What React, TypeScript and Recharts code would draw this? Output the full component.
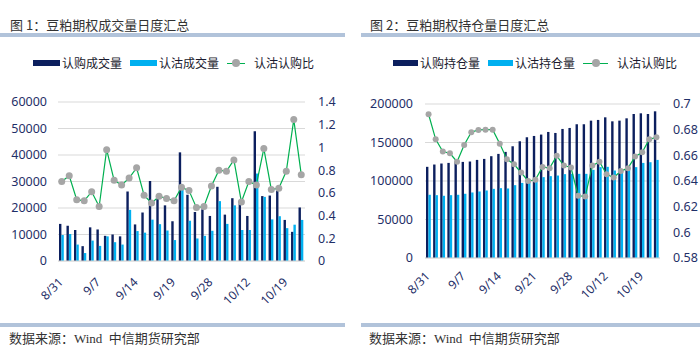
import { Bar, CartesianGrid, ComposedChart, Line, XAxis, YAxis } from 'recharts';

const volumeDates = ['8/31', '9/1', '9/2', '9/3', '9/4', '9/7', '9/8', '9/9', '9/10', '9/11', '9/14', '9/15', '9/16', '9/17', '9/18', '9/19', '9/22', '9/23', '9/24', '9/25', '9/28', '9/29', '9/30', '10/9', '10/10', '10/12', '10/13', '10/14', '10/15', '10/16', '10/19', '10/20', '10/21'];
const oiDates = ['8/31', '9/1', '9/2', '9/3', '9/4', '9/7', '9/8', '9/9', '9/10', '9/11', '9/14', '9/15', '9/16', '9/17', '9/18', '9/21', '9/22', '9/23', '9/24', '9/25', '9/28', '9/29', '9/30', '10/9', '10/10', '10/12', '10/13', '10/14', '10/15', '10/16', '10/19', '10/20', '10/21'];

const callVolume = [14000, 13300, 11700, 5600, 12700, 11900, 9500, 10000, 9300, 26200, 13800, 18300, 30200, 23700, 21000, 15000, 41000, 25000, 18500, 19500, 17000, 28000, 17500, 23700, 21500, 17000, 49000, 24500, 24700, 26500, 15500, 11000, 20200];
const putVolume = [9800, 10200, 6200, 3000, 7700, 5700, 9300, 7100, 6200, 19300, 11300, 10700, 15600, 13900, 11500, 7900, 27000, 15200, 8500, 9500, 11400, 22600, 14000, 21000, 11700, 11700, 33000, 24200, 15700, 16900, 12400, 13700, 15500];
const volumeRatio = [0.70, 0.75, 0.54, 0.53, 0.61, 0.48, 0.98, 0.71, 0.67, 0.73, 0.82, 0.58, 0.51, 0.57, 0.55, 0.53, 0.65, 0.62, 0.47, 0.48, 0.66, 0.80, 0.79, 0.89, 0.52, 0.70, 0.67, 0.99, 0.63, 0.64, 0.79, 1.245, 0.76];

const callOI = [118400, 121400, 122700, 123500, 124500, 124800, 125300, 127400, 128700, 132200, 135200, 137800, 145100, 151600, 156800, 158500, 160300, 163700, 162400, 167600, 168900, 173700, 173700, 178400, 179300, 182700, 177500, 178400, 181400, 187000, 187900, 187000, 190500];
const putOI = [82100, 81600, 80800, 81600, 82100, 83400, 85100, 86400, 87700, 89800, 90700, 90300, 94600, 97600, 101500, 102400, 105000, 106300, 107100, 108900, 109300, 109300, 109300, 114500, 118000, 118400, 113600, 113600, 114500, 118000, 123500, 124400, 127400];
const oiRatio = [0.692, 0.6725, 0.663, 0.6616, 0.655, 0.668, 0.678, 0.6798, 0.680, 0.680, 0.669, 0.657, 0.653, 0.6466, 0.640, 0.641, 0.651, 0.650, 0.6596, 0.652, 0.6505, 0.6285, 0.628, 0.652, 0.655, 0.6453, 0.6427, 0.6477, 0.650, 0.659, 0.6624, 0.6725, 0.674];

const volumeTicks = [0, 10000, 20000, 30000, 40000, 50000, 60000];
const volumeRatioTicks = [0, 0.2, 0.4, 0.6, 0.8, 1, 1.2, 1.4];
const oiTicks = [0, 50000, 100000, 150000, 200000];
const oiRatioTicks = [0.58, 0.6, 0.62, 0.64, 0.66, 0.68, 0.7];

const FONT = '"Noto Sans", "Noto Sans CJK SC", sans-serif';
const CJK = '"Noto Sans CJK SC", sans-serif';
const DARK = '#0c1f5e';
const LIGHT = '#00b0f0';
const GREEN = '#00b050';
const DOT = '#a6a6a6';
const TICK = '#1f2f68';
const GRID = '#d9d9d9';
const RULE = '#b1c3da';

function DateTick(props: any) {
  const { x, y, payload, offset } = props;
  const tx = x + 2;
  const ty = y + offset;
  return (
    <text x={tx} y={ty} transform={`rotate(-45 ${tx} ${ty})`} textAnchor="end" fontSize={12} fill={TICK} fontFamily={FONT}>
      {payload.value}
    </text>
  );
}

function Legend({ left, labels, swatchW, lineW }: { left: number; labels: string[]; swatchW: number; lineW: number }) {
  const text = { fontSize: 12, color: '#1a1a2e', fontFamily: CJK, marginLeft: 2 };
  return (
    <div style={{ position: 'absolute', left, top: 55, height: 16, lineHeight: '16px', display: 'flex', alignItems: 'center' }}>
      <span style={{ width: swatchW, height: 6, background: DARK, display: 'inline-block' }} />
      <span style={text}>{labels[0]}</span>
      <span style={{ width: swatchW, height: 6, background: LIGHT, display: 'inline-block', marginLeft: 8 }} />
      <span style={text}>{labels[1]}</span>
      <span style={{ position: 'relative', width: lineW, height: 8, display: 'inline-block', marginLeft: 8 }}>
        <span style={{ position: 'absolute', left: 0, right: 0, top: 3.5, height: 1, background: GREEN }} />
        <span style={{ position: 'absolute', left: lineW / 2 - 4, top: 0, width: 8, height: 8, borderRadius: 4, background: DOT }} />
      </span>
      <span style={{ ...text, marginLeft: 9 }}>{labels[2]}</span>
    </div>
  );
}

function Panel(props: {
  left: number;
  title: string;
  ruleLeft: number;
  ruleWidth: number;
  legendLeft: number;
  labels: string[];
  swatchW: number;
  lineW: number;
  rows: any[];
  leftTicks: number[];
  rightTicks: number[];
  leftWidth: number;
  rightWidth: number;
  leftMargin: number;
  rightMargin: number;
  plotTop: number;
  plotBottom: number;
  tickOffset: number;
  dotR: number;
}) {
  const h = 330;
  return (
    <div style={{ position: 'absolute', left: props.left, top: 0, width: 350, height: 355 }}>
      <div style={{ position: 'absolute', left: props.ruleLeft + 10 - (props.left ? 1 : 0), top: 17, lineHeight: '16px', fontSize: 13, color: '#333', fontFamily: CJK, whiteSpace: 'nowrap' }}>
        {props.title}
      </div>
      <div style={{ position: 'absolute', left: props.ruleLeft, top: 33, width: props.ruleWidth, height: 4, background: RULE }} />
      <Legend left={props.legendLeft} labels={props.labels} swatchW={props.swatchW} lineW={props.lineW} />
      <div style={{ position: 'absolute', left: 0, top: 0 }}>
        <ComposedChart width={350} height={h} data={props.rows} margin={{ top: props.plotTop, right: 0, bottom: 0, left: 0 }} barGap={0} barSize={2.4}>
          <CartesianGrid yAxisId="l" vertical={false} stroke={GRID} />
          <XAxis
            dataKey="date"
            interval={4}
            tickLine={false}
            tickSize={0}
            axisLine={{ stroke: GRID }}
            height={h - props.plotBottom}
            tick={(p: any) => <DateTick {...p} offset={props.tickOffset} />}
          />
          <YAxis yAxisId="l" orientation="left" width={props.leftWidth} domain={[props.leftTicks[0], props.leftTicks[props.leftTicks.length - 1]]} ticks={props.leftTicks} axisLine={false} tickLine={false} tickSize={0} tickMargin={props.leftMargin} tick={{ fill: TICK, fontSize: 12.5, fontFamily: FONT }} />
          <YAxis yAxisId="r" orientation="right" width={props.rightWidth} domain={[props.rightTicks[0], props.rightTicks[props.rightTicks.length - 1]]} ticks={props.rightTicks} axisLine={false} tickLine={false} tickSize={0} tickMargin={props.rightMargin} tick={{ fill: TICK, fontSize: 12.5, fontFamily: FONT, textAnchor: 'start' }} />
          <Bar yAxisId="l" dataKey="call" fill={DARK} isAnimationActive={false} />
          <Bar yAxisId="l" dataKey="put" fill={LIGHT} isAnimationActive={false} />
          <Line yAxisId="r" type="linear" dataKey="ratio" stroke={GREEN} strokeWidth={1.2} dot={{ r: props.dotR, fill: DOT, stroke: DOT, strokeWidth: 0 }} activeDot={false} isAnimationActive={false} />
        </ComposedChart>
      </div>
      <div style={{ position: 'absolute', left: props.ruleLeft, top: 323, width: props.ruleWidth, height: 4, background: RULE }} />
      <div style={{ position: 'absolute', left: props.ruleLeft + 9 - (props.left ? 1 : 0), top: 331, lineHeight: '16px', fontSize: 13, color: '#333', fontFamily: '"Liberation Serif", "Noto Sans CJK SC", serif', whiteSpace: 'nowrap' }}>
        数据来源：Wind&nbsp;&nbsp;中信期货研究部
      </div>
    </div>
  );
}

const volumeRows = volumeDates.map((date, i) => ({ date, call: callVolume[i], put: putVolume[i], ratio: volumeRatio[i] }));
const oiRows = oiDates.map((date, i) => ({ date, call: callOI[i], put: putOI[i], ratio: oiRatio[i] }));

export default function App() {
  return (
    <div style={{ position: 'absolute', left: 0, top: 0, width: 700, height: 355, background: '#fff', overflow: 'hidden' }}>
      <Panel
        left={0}
        title="图 1：豆粕期权成交量日度汇总"
        ruleLeft={0}
        ruleWidth={345}
        legendLeft={33}
        labels={['认购成交量', '认沽成交量', '认沽认购比']}
        swatchW={27}
        lineW={18}
        rows={volumeRows}
        leftTicks={volumeTicks}
        rightTicks={volumeRatioTicks}
        leftWidth={58}
        rightWidth={45}
        leftMargin={11}
        rightMargin={13}
        plotTop={102}
        plotBottom={261}
        tickOffset={20}
        dotR={3.5}
      />
      <Panel
        left={350}
        title="图 2：豆粕期权持仓量日度汇总"
        ruleLeft={11}
        ruleWidth={339}
        legendLeft={43}
        labels={['认购持仓量', '认沽持仓量', '认沽认购比']}
        swatchW={25}
        lineW={25}
        rows={oiRows}
        leftTicks={oiTicks}
        rightTicks={oiRatioTicks}
        leftWidth={75}
        rightWidth={40}
        leftMargin={12}
        rightMargin={13}
        plotTop={104}
        plotBottom={258}
        tickOffset={17}
        dotR={3}
      />
    </div>
  );
}
